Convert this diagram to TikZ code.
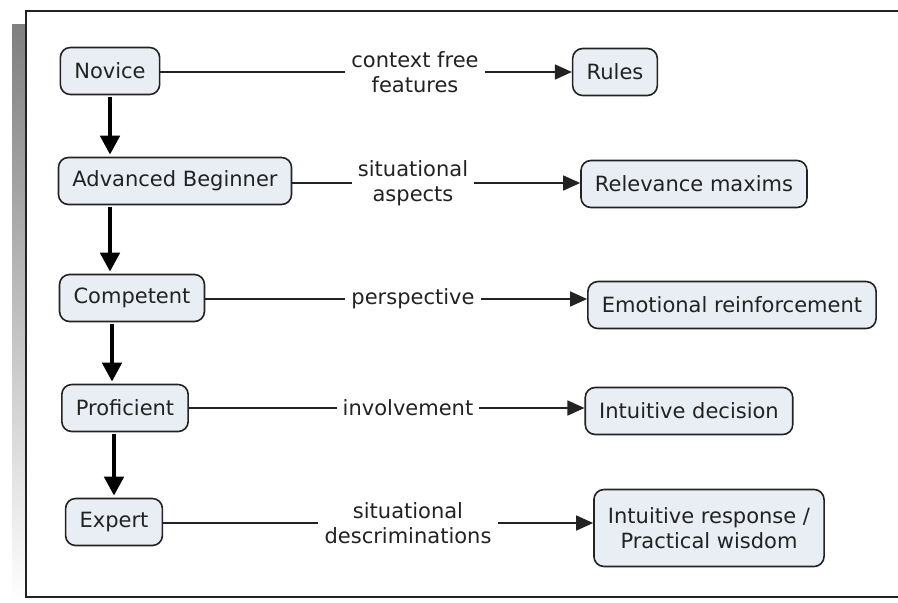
\documentclass[tikz,border=0pt]{standalone}
\usepackage{fontspec}
\setmainfont{DejaVu Sans}
\usetikzlibrary{arrows.meta}
\definecolor{boxfill}{HTML}{E8EEF3}
\definecolor{ink}{HTML}{222222}
\definecolor{shade}{HTML}{808080}
\tikzset{
  stage/.style={draw=ink, line width=1.6pt, fill=boxfill, rounded corners=10pt,
    minimum height=47pt, inner xsep=14pt, font=\fontsize{21}{24.5}\selectfont, text=ink, align=center},
  lbl/.style={inner sep=6pt, font=\fontsize{21}{24.5}\selectfont, text=ink, align=center},
  link/.style={draw=ink, line width=1.6pt},
  tip/.style={-{Triangle[length=17pt,width=15pt]}},
  flow/.style={draw=black, line width=4.5pt, -{Triangle[length=19pt,width=19pt]}}
}
\begin{document}
\begin{tikzpicture}[x=1pt,y=-1pt]
  \clip (0,0) rectangle (898,603);
  \fill[white] (0,0) rectangle (898,603);
  % frame with shadow
  \fill[shade] (12,24) rectangle (910,603);
  \draw[fill=white, draw=ink, line width=2pt] (26,11) rectangle (915,597);
  % stages
  \node[stage] (novice) at (110,71) {Novice};
  \node[stage] (advbeg) at (175,181) {Advanced Beginner};
  \node[stage] (compet) at (132,298) {Competent};
  \node[stage] (profic) at (125,408) {Proficient};
  \node[stage] (expert) at (114,522) {Expert};
  % outcomes
  \node[stage] (rules) at (615,72) {Rules};
  \node[stage] (maxims) at (694,184) {Relevance maxims};
  \node[stage] (emotion) at (732,305) {Emotional reinforcement};
  \node[stage] (intdec) at (689,411) {Intuitive decision};
  \node[stage, minimum height=77pt] (intresp) at (709,528) {Intuitive response /\\Practical wisdom};
  % link labels
  \node[lbl] (l1) at (415,72) {context free\\features};
  \node[lbl] (l2) at (413,183) {situational\\aspects};
  \node[lbl] (l3) at (413,299) {perspective};
  \node[lbl] (l4) at (408,408) {involvement};
  \node[lbl] (l5) at (408,523) {situational\\descriminations};
  \begin{scope}[link]
    \draw (novice.east |- l1) -- (l1.west);
    \draw[tip] (l1.east) -- (rules.west |- l1.east);
    \draw (advbeg.east |- l2) -- (l2.west);
    \draw[tip] (l2.east) -- (maxims.west |- l2.east);
    \draw (compet.east |- l3) -- (l3.west);
    \draw[tip] (l3.east) -- (emotion.west |- l3.east);
    \draw (profic.east |- l4) -- (l4.west);
    \draw[tip] (l4.east) -- (intdec.west |- l4.east);
    \draw (expert.east |- l5) -- (l5.west);
    \draw[tip] (l5.east) -- (intresp.west |- l5.east);
  \end{scope}
  \begin{scope}[flow, shorten <=2pt, shorten >=2pt]
    \draw (novice.south -| 110,0) -- (advbeg.north -| 110,0);
    \draw (advbeg.south -| 110,0) -- (compet.north -| 110,0);
    \draw (compet.south -| 112,0) -- (profic.north -| 112,0);
    \draw (profic.south -| 114,0) -- (expert.north -| 114,0);
  \end{scope}
\end{tikzpicture}
\end{document}
